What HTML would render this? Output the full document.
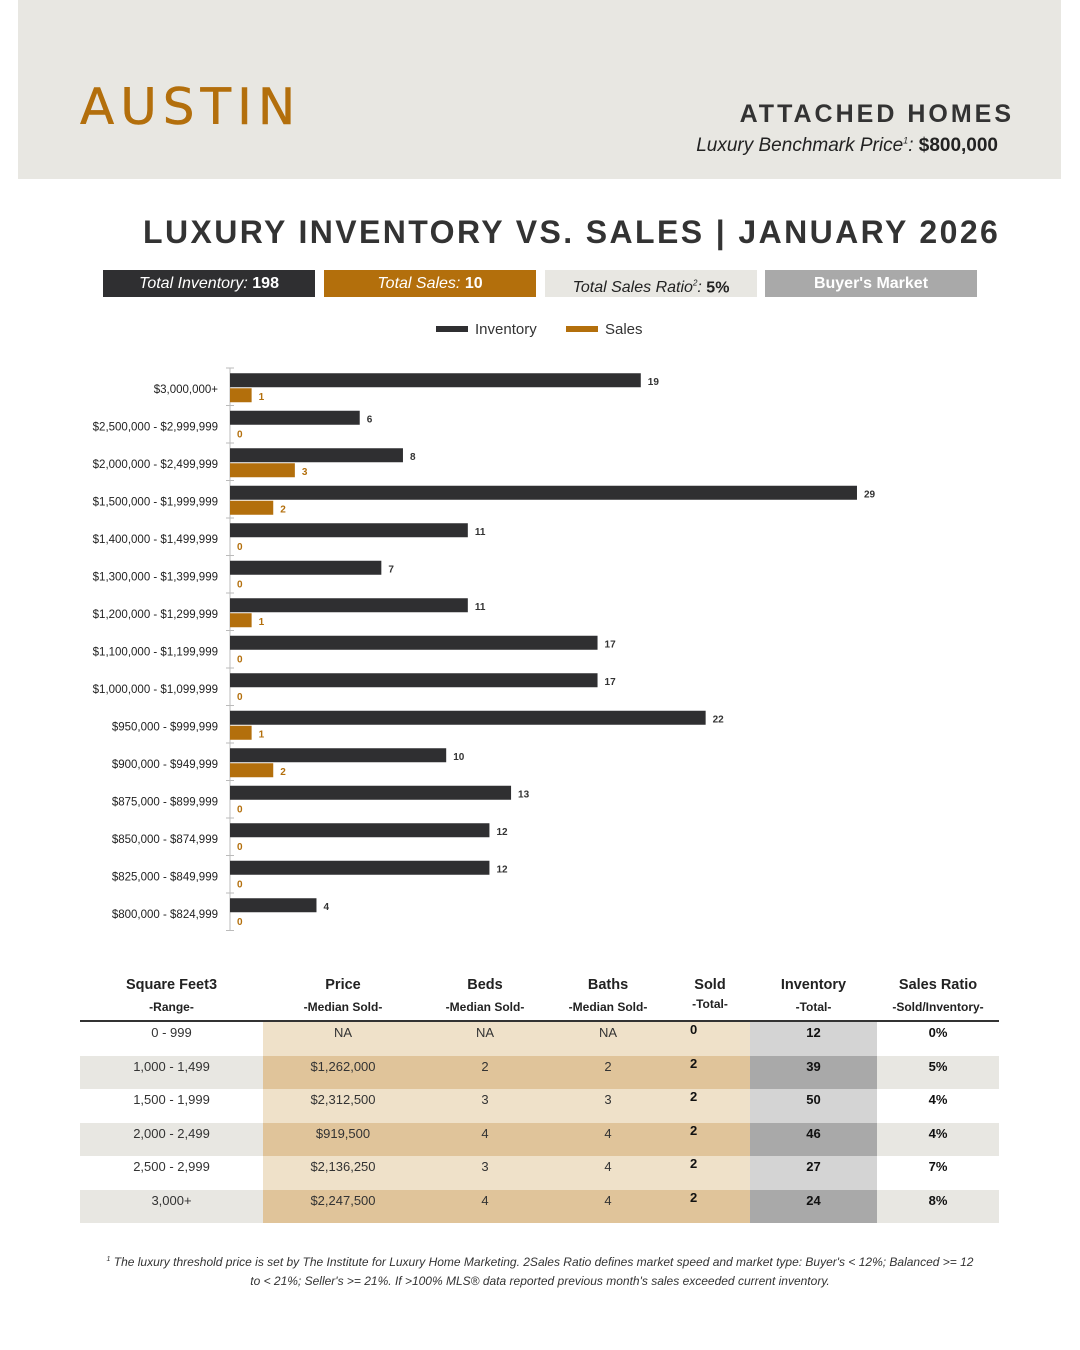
<!DOCTYPE html>
<html><head><meta charset="utf-8">
<style>
body{margin:0;width:1080px;height:1350px;background:#fff;position:relative;font-family:"Liberation Sans","DejaVu Sans",sans-serif;overflow:hidden}
.abs{position:absolute}
.hdr{left:18px;top:0;width:1043px;height:179px;background:#e8e7e2}
.box{position:absolute;top:270px;height:27px;line-height:27px;text-align:center;font-size:16px}
</style></head><body>
<div class="abs hdr"></div>
<div class="abs" style="left:80px;top:78px;font-size:50px;color:#b36f0c;letter-spacing:6px;font-family:'DejaVu Sans',sans-serif;-webkit-text-stroke:0.5px #b36f0c">AUSTIN</div>
<div class="abs" style="right:66px;top:100px;font-size:25px;font-weight:bold;letter-spacing:3px;color:#333">ATTACHED HOMES</div>
<div class="abs" style="right:82px;top:135px;font-size:19px;color:#222"><i>Luxury Benchmark Price<sup style="font-size:9px">1</sup>:</i> <b>$800,000</b></div>
<div class="abs" style="left:143px;top:214px;font-size:32px;font-weight:bold;letter-spacing:2.4px;color:#333;white-space:nowrap">LUXURY INVENTORY VS. SALES | JANUARY 2026</div>
<div class="box" style="left:103px;width:212px;background:#2f2f31;color:#fff"><i>Total Inventory:</i> <b>198</b></div>
<div class="box" style="left:324px;width:212px;background:#b36f0c;color:#fff"><i>Total Sales:</i> <b>10</b></div>
<div class="box" style="left:545px;width:212px;background:#e8e7e2;color:#222"><i>Total Sales Ratio<sup style="font-size:8px">2</sup>:</i> <b>5%</b></div>
<div class="box" style="left:765px;width:212px;background:#a9a9a9;color:#fff;font-weight:bold">Buyer's Market</div>
<svg class="abs" style="left:0;top:310px" width="1080" height="640">
<g>
<rect x="436" y="16" width="32" height="6" fill="#2f2f31"/><text x="475" y="24" font-size="15" fill="#333">Inventory</text>
<rect x="566" y="16" width="32" height="6" fill="#b36f0c"/><text x="605" y="24" font-size="15" fill="#333">Sales</text>
</g>
<g id="plot"></g>
</svg>
<script>
const categories=["$3,000,000+","$2,500,000 - $2,999,999","$2,000,000 - $2,499,999","$1,500,000 - $1,999,999","$1,400,000 - $1,499,999","$1,300,000 - $1,399,999","$1,200,000 - $1,299,999","$1,100,000 - $1,199,999","$1,000,000 - $1,099,999","$950,000 - $999,999","$900,000 - $949,999","$875,000 - $899,999","$850,000 - $874,999","$825,000 - $849,999","$800,000 - $824,999"];
const inventory=[19,6,8,29,11,7,11,17,17,22,10,13,12,12,4];
const sales=[1,0,3,2,0,0,1,0,0,1,2,0,0,0,0];
const NS="http://www.w3.org/2000/svg";
const x0=230,unit=21.62,top0=58,step=37.5,bh=14;
const xs=v=>v*unit;
const yc=i=>top0+i*step+step/2+1;
const g=document.getElementById('plot');
function mk(t,a){const e=document.createElementNS(NS,t);for(const k in a)e.setAttribute(k,a[k]);g.appendChild(e);return e;}
const ax=mk('line',{x1:x0,x2:x0,y1:top0,y2:top0+categories.length*step,stroke:'#bbb'});

for(let i=0;i<=categories.length;i++){const t=mk('line',{x1:x0-4,x2:x0+4,y1:top0+i*step,y2:top0+i*step,stroke:'#bbb'});}
categories.forEach((c,i)=>{
 const y=yc(i);
 const l=mk('text',{x:218,y:y+5,'font-size':11.5,'text-anchor':'end',fill:'#222'});l.textContent=c;
 
 const b=mk('rect',{x:x0,y:y-bh-0.5,width:xs(inventory[i]),height:bh,fill:'#2f2f31'});
 
 const bl=mk('text',{x:x0+xs(inventory[i])+7,y:y-3,'font-size':10,'font-weight':'bold',fill:'#333'});bl.textContent=inventory[i];
 
 const s=mk('rect',{x:x0,y:y+0.5,width:xs(sales[i]),height:bh,fill:'#b36f0c'});
 
 const sl=mk('text',{x:x0+xs(sales[i])+7,y:y+12,'font-size':10,'font-weight':'bold',fill:'#b36f0c'});sl.textContent=sales[i];
 
});
</script>
<div class="abs" style="left:80px;top:975px;width:919px">
<div style="position:relative;height:45px;font-size:14.5px;font-weight:bold;color:#222;border-bottom:2px solid #333">
<span class="abs" style="left:0;width:183px;text-align:center;top:2px">Square Feet3<br><span style="font-size:12px;line-height:28px">-Range-</span></span>
<span class="abs" style="left:183px;width:160px;text-align:center;top:2px">Price<br><span style="font-size:12px;line-height:28px">-Median Sold-</span></span>
<span class="abs" style="left:343px;width:124px;text-align:center;top:2px">Beds<br><span style="font-size:12px;line-height:28px">-Median Sold-</span></span>
<span class="abs" style="left:467px;width:122px;text-align:center;top:2px">Baths<br><span style="font-size:12px;line-height:28px">-Median Sold-</span></span>
<span class="abs" style="left:595px;width:70px;text-align:center;top:2px">Sold<br><span style="font-size:12px;line-height:22px">-Total-</span></span>
<span class="abs" style="left:670px;width:127px;text-align:center;top:2px">Inventory<br><span style="font-size:12px;line-height:28px">-Total-</span></span>
<span class="abs" style="left:797px;width:122px;text-align:center;top:2px">Sales Ratio<br><span style="font-size:12px;line-height:28px">-Sold/Inventory-</span></span>
</div>
<div id="rows"></div>
</div>
<script>
const tRange=["0 - 999","1,000 - 1,499","1,500 - 1,999","2,000 - 2,499","2,500 - 2,999","3,000+"];
const tPrice=["NA","$1,262,000","$2,312,500","$919,500","$2,136,250","$2,247,500"];
const tBeds=["NA","2","3","4","3","4"];
const tBaths=["NA","2","3","4","4","4"];
const tSold=["0","2","2","2","2","2"];
const tInv=["12","39","50","46","27","24"];
const tRatio=["0%","5%","4%","4%","7%","8%"];
const R=document.getElementById('rows');
tRange.forEach((r,i)=>{
 const even=i%2==1;
 const d=document.createElement('div');
 
 
 d.style.cssText='position:relative;height:33.5px;font-size:13px;color:#333;background:'+(even?'#e8e7e2':'#fff');
 const tan=even?'#e0c49a':'#efe1c9',gr=even?'#a9a9a9':'#d4d4d4';
 d.innerHTML=`<div class="abs" style="left:183px;width:487px;top:0;bottom:0;background:${tan}"></div>
<div class="abs" style="left:670px;width:127px;top:0;bottom:0;background:${gr}"></div>
<span class="abs" style="left:0;width:183px;text-align:center;top:3px">${r}</span>
<span class="abs" style="left:183px;width:160px;text-align:center;top:3px">${tPrice[i]}</span>
<span class="abs" style="left:343px;width:124px;text-align:center;top:3px">${tBeds[i]}</span>
<span class="abs" style="left:467px;width:122px;text-align:center;top:3px">${tBaths[i]}</span>
<span class="abs" style="left:610px;top:0;font-weight:bold;color:#111">${tSold[i]}</span>
<span class="abs" style="left:670px;width:127px;text-align:center;top:3px;font-weight:bold;color:#111">${tInv[i]}</span>
<span class="abs" style="left:797px;width:122px;text-align:center;top:3px;font-weight:bold;color:#111">${tRatio[i]}</span>`;
 R.appendChild(d);
});
</script>
<div class="abs" style="left:100px;width:880px;top:1250px;text-align:center;font-size:12px;font-style:italic;color:#333;line-height:19px"><sup style="font-size:7px">1</sup> The luxury threshold price is set by The Institute for Luxury Home Marketing. 2Sales Ratio defines market speed and market type: Buyer's &lt; 12%; Balanced &gt;= 12 to &lt; 21%; Seller's &gt;= 21%. If &gt;100% MLS® data reported previous month's sales exceeded current inventory.</div>
</body></html>
